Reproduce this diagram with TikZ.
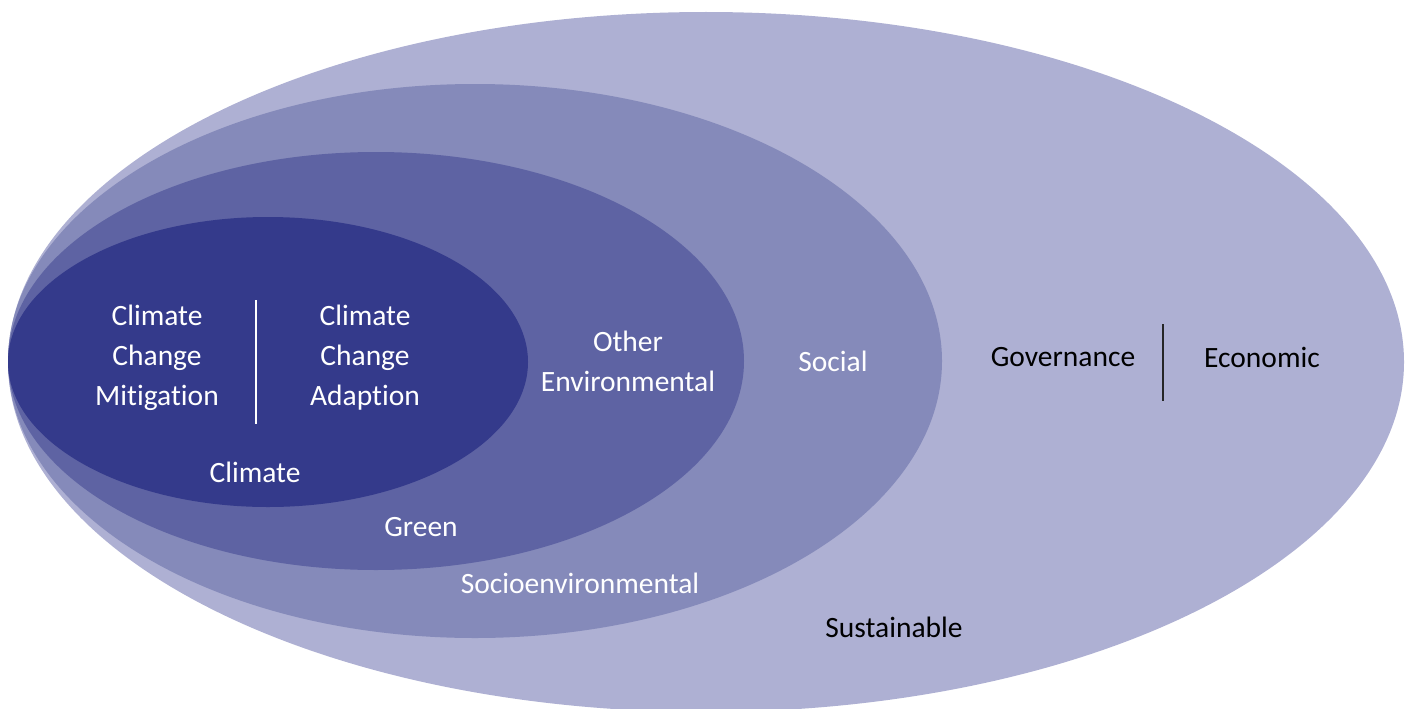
\documentclass[tikz,border=0pt]{standalone}
\usepackage{fontspec}
\setmainfont[Ligatures={NoCommon}]{Carlito}
\definecolor{cSust}{HTML}{AEB0D3}
\definecolor{cSocio}{HTML}{858ABA}
\definecolor{cGreen}{HTML}{5E63A3}
\definecolor{cClim}{HTML}{343A8B}
\begin{document}
\begin{tikzpicture}[x=1pt,y=-1pt,
  lbl/.style={font=\fontsize{29.5}{40}\selectfont, text=white, align=center, inner sep=0pt},
  lblk/.style={lbl, text=black},
  region/.style={draw=none}]
\useasboundingbox (0,0) rectangle (1410,709);
\begin{scope}
\clip (0,0) rectangle (1410,709);
\fill[cSust] (706,362) ellipse [x radius=698, y radius=350];
\fill[cSocio] (475,361) ellipse [x radius=467, y radius=277];
\fill[cGreen] (376,361) ellipse [x radius=368, y radius=209];
\fill[cClim] (268,362) ellipse [x radius=260, y radius=145];
\end{scope}
\node[lbl] (mit) at (157,358) {Climate\\Change\\Mitigation};
\node[lbl] (ada) at (365,358) {Climate\\Change\\Adaption};
\coordinate (s1t) at (256,300);
\coordinate (s1b) at (256,424);
\draw[white, line width=1.5pt] (s1t) -- (s1b);
\node[lbl] (clim) at (255,472) {Climate};
\node[lbl] (oth) at (628,361) {Other\\Environmental};
\node[lbl] (green) at (421,527) {Green};
\node[lbl] (soc) at (833,361) {Social};
\node[lbl] (socio) at (580,583) {Socioenvironmental};
\node[lblk] (gov) at (1063,357) {Governance};
\node[lblk] (eco) at (1262,357) {Economic};
\coordinate (s2t) at (1163,324);
\coordinate (s2b) at (1163,401);
\draw[black!85, line width=1.5pt] (s2t) -- (s2b);
\node[lblk] (sus) at (894,627) {Sustainable};
\end{tikzpicture}
\end{document}
